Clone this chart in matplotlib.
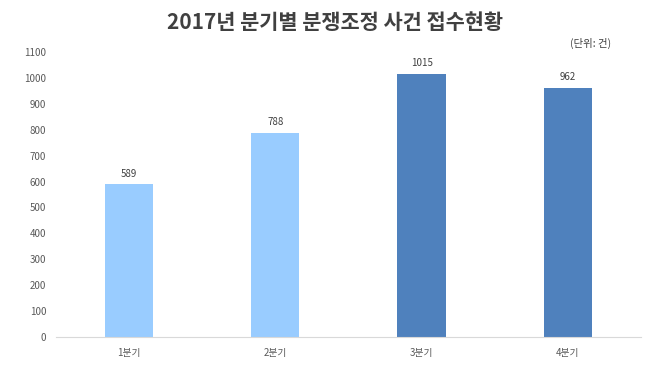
import matplotlib
matplotlib.use("Agg")
import matplotlib.pyplot as plt

plt.rcParams['font.family'] = ['Noto Sans CJK KR', 'DejaVu Sans']

quarters = ['1분기', '2분기', '3분기', '4분기']
cases = [589, 788, 1015, 962]
colors = ['#99CCFF', '#99CCFF', '#4F81BD', '#4F81BD']
yticks = list(range(0, 1101, 100))

fig = plt.figure(figsize=(6.7, 3.76), dpi=100)
ax = fig.add_axes([0.0836, 0.1037, 0.873, 0.758])

x = range(len(quarters))
bars = ax.bar(x, cases, width=0.33, color=colors)
for b, v in zip(bars, cases):
    ax.text(b.get_x() + b.get_width() / 2, v + 22, str(v), ha='center', va='bottom',
            fontsize=7, color='#404040')

ax.set_xlim(-0.5, 3.5)
ax.set_ylim(0, 1100)
ax.set_xticks(list(x))
ax.set_xticklabels(quarters)
ax.set_yticks(yticks)
ax.tick_params(axis='both', length=0, labelsize=7, colors='#595959')
ax.tick_params(axis='x', pad=8)
ax.tick_params(axis='y', pad=7)
for s in ['top', 'right', 'left']:
    ax.spines[s].set_visible(False)
ax.spines['bottom'].set_color('#D9D9D9')

fig.text(0.5, 0.94, '2017년 분기별 분쟁조정 사건 접수현황', ha='center', va='center',
         fontsize=15, fontweight='bold', color='#404040')
fig.text(0.881, 0.885, '(단위: 건)', ha='center', va='center', fontsize=7.5, color='#404040')

fig.savefig('out.png', dpi=100)
